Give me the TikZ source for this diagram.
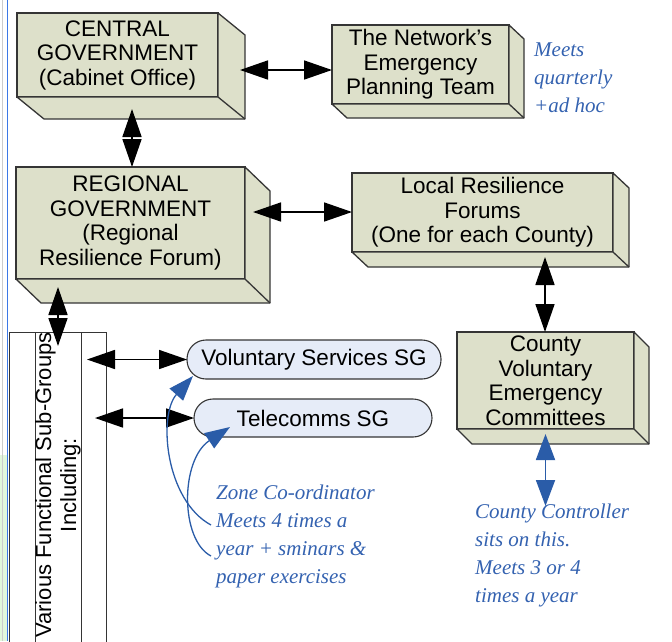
\documentclass[tikz,border=0pt]{standalone}
\usepackage{fontspec}
\setmainfont{Liberation Sans}
\newfontfamily\notefont{Liberation Serif}
\usetikzlibrary{arrows.meta,calc}
\definecolor{boxfill}{HTML}{DDE0CA}
\definecolor{boxline}{HTML}{353535}
\definecolor{pillfill}{HTML}{E6ECF8}
\definecolor{noteblue}{HTML}{3462B0}
\definecolor{arrowblue}{HTML}{2A5CA8}
\definecolor{marginblue}{HTML}{3C78E6}
\definecolor{margingreen}{HTML}{E2F8DC}
\newcommand\extrude[3]{%
  \filldraw[boxside] (#1.north east) -- ++(#2,#3) -- ($(#1.south east)+(#2,#3)$) -- ($(#1.south west)+(#2,#3)$) -- (#1.south west) -- (#1.south east) -- cycle;
  \draw[boxside] (#1.south east) -- ++(#2,#3);}
\begin{document}
\begin{tikzpicture}[x=1pt,y=-1pt,
  tdbox/.style={draw=boxline, fill=boxfill, line width=1.3pt, inner sep=0pt, outer sep=0pt,
    align=center, font=\fontsize{22.5}{24.5}\selectfont},
  boxside/.style={draw=boxline, fill=boxfill, line width=1.3pt, line join=round},
  pill/.style={draw=boxline, fill=pillfill, line width=1.1pt, rounded corners=19pt, inner sep=0pt,
    outer sep=0pt, font=\fontsize{22.5}{24.5}\selectfont},
  note/.style={text=noteblue, inner sep=0pt, anchor=north west, align=left,
    font=\notefont\itshape\fontsize{21}{28}\selectfont},
  biarrow/.style={line width=1.6pt, >={Triangle[length=28pt,width=19pt]}, <->},
  bluearrow/.style={draw=arrowblue, fill=arrowblue, line width=1.8pt, >={Triangle[length=26pt,width=19pt]}, <->},
  curvearrow/.style={draw=arrowblue, line width=1.3pt, >={Triangle[length=25pt,width=18pt]}, ->}
]
\useasboundingbox (0,0) rectangle (672,641);
% page margin marks
\fill[margingreen] (0,455) rectangle (6.5,641);
\draw[gray!40, line width=0.8pt] (2,0) -- (2,641);
\draw[marginblue, line width=1.5pt] (7.5,0) -- (7.5,641);

% 3D boxes
\node[tdbox, minimum width=201pt, minimum height=84pt] (cg) at (117.5,55) {CENTRAL\\GOVERNMENT\\(Cabinet Office)};
\extrude{cg}{27}{22}
\node[tdbox, minimum width=177pt, minimum height=79pt] (net) at (420.5,64.5) {The Network’s\\Emergency\\Planning Team};
\extrude{net}{15}{14}
\node[tdbox, minimum width=229pt, minimum height=112pt] (rg) at (130.5,223) {REGIONAL\\GOVERNMENT\\(Regional\\Resilience Forum)};
\extrude{rg}{25}{24}
\node[tdbox, minimum width=261pt, minimum height=79pt] (lrf) at (482.5,212.5) {Local Resilience\\Forums\\(One for each County)};
\extrude{lrf}{16}{15}
\node[tdbox, minimum width=177pt, minimum height=97pt] (cvec) at (545.5,380.5) {County\\Voluntary\\Emergency\\Committees};
\extrude{cvec}{15}{15}

% sub-groups column
\node[draw=boxline, line width=0.9pt, inner sep=0pt, outer sep=0pt, anchor=north west,
  minimum width=97pt, minimum height=330pt] (vfs) at (9,332) {};
\draw[boxline, line width=0.9pt] (vfs.north west) ++(26,0) -- ++(0,330);
\draw[boxline, line width=0.9pt] (vfs.north west) ++(72,0) -- ++(0,330);
\node[rotate=90, align=center, inner sep=0pt, font=\fontsize{22}{25}\selectfont] (vfstext) at (58,485)
  {Various Functional Sub-Groups\\Including:};

% pills
\node[pill, minimum width=254pt, minimum height=39pt] (vs) at (314,359.5) {Voluntary Services SG};
\node[pill, minimum width=238pt, minimum height=38pt] (tc) at (313,418) {Telecomms SG};

% notes
\node[note] (meets) at (534,43) {Meets\\quarterly\\+ad hoc};
\node[note] (zone) at (216,485) {Zone Co-ordinator\\Meets 4 times a\\year + sminars \&\\paper exercises};
\node[note] (ccnote) at (475,504) {County Controller\\sits on this.\\Meets 3 or 4\\times a year};

% black connectors
\coordinate (a1) at ($(cg.east)+(22,15)$);
\draw[biarrow] (a1) -- (a1 -| net.west);
\coordinate (a2) at ($(cg.south)+(14.5,12)$);
\draw[biarrow] (a2) -- (a2 |- rg.north);
\coordinate (a3) at ($(rg.east)+(8,-11)$);
\draw[biarrow] (a3) -- (a3 -| lrf.west);
\coordinate (a4) at ($(lrf.south)+(62.5,5)$);
\draw[biarrow] (a4) -- (a4 |- cvec.north);
\coordinate (a5) at ($(rg.south)+(-72.5,8)$);
\coordinate (a5b) at ($(vfs.north)+(0.5,14)$);
\draw[biarrow] (a5) -- (a5 |- a5b);
\coordinate (a6) at ($(vs.west)+(-100,0)$);
\draw[biarrow] (a6) -- (vs.west);
\coordinate (a7) at ($(tc.west)+(-99,0)$);
\draw[biarrow] (a7) -- (tc.west);

% blue connectors
\coordinate (b1) at ($(cvec.south)+(0,5)$);
\coordinate (b2) at ($(cvec.south)+(0,77)$);
\draw[bluearrow] (b1) -- (b2);
\coordinate (z1) at (211,525);
\coordinate (vstip) at ($(vs.south west)+(6,-3)$);
\draw[curvearrow] (z1) .. controls (165,500) and (158,415) .. (vstip);
\coordinate (z2) at (211,556);
\coordinate (tctip) at ($(tc.south west)+(36,-10)$);
\draw[curvearrow] (z2) .. controls (180,540) and (180,460) .. (tctip);
\end{tikzpicture}
\end{document}
